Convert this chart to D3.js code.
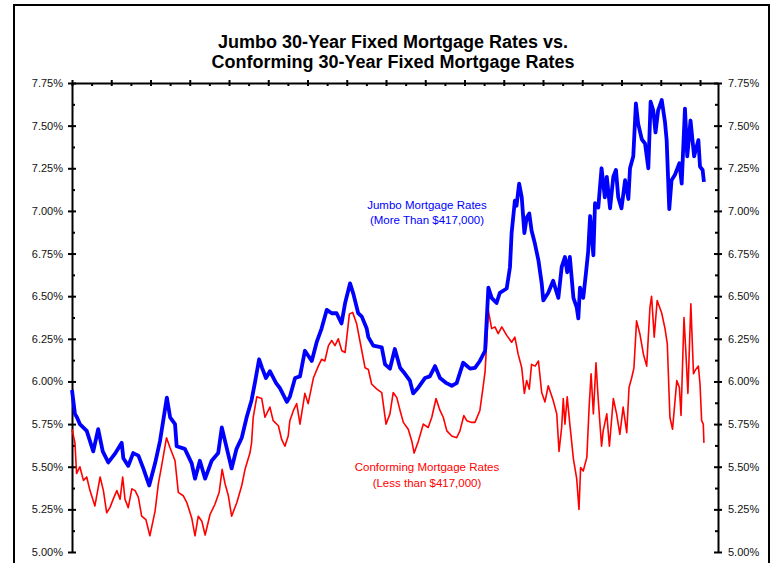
<!DOCTYPE html>
<html>
<head>
<meta charset="utf-8">
<script src="https://cdn.jsdelivr.net/npm/d3@7"></script>
<style>
  body { margin: 0; background: #fff; }
  svg { font-family: Arial, "Liberation Sans", sans-serif; }
  .axis path { stroke: #000; stroke-width: 2px; }
  .axis line { stroke: #000; stroke-width: 2px; }
  .axis text { font-size: 11px; fill: #111; }
  .title { font-size: 18px; font-weight: bold; text-anchor: middle; }
  .label { font-size: 11.5px; text-anchor: middle; }
</style>
</head>
<body>
<script>
//W and H
var w = 772;
var h = 563;
var plotLeft = 72, plotRight = 718, plotTop = 83, plotBottom = 552;

//weeks from start of series, rate in %
var jumbo = [[0,5.95],[0.9,5.81],[1.5,5.79],[2.4,5.75],[4.5,5.71],[6.5,5.59],[8.0,5.72],[9.4,5.59],[11.1,5.525],[13.1,5.575],[15.2,5.64],[15.7,5.55],[17.2,5.505],[18.7,5.58],[20.3,5.565],[21.8,5.49],[23.6,5.39],[25.4,5.52],[26.9,5.65],[29.0,5.905],[30.0,5.79],[31.5,5.75],[32.0,5.62],[34.5,5.605],[36.6,5.52],[37.6,5.43],[39.1,5.535],[40.7,5.43],[42.7,5.535],[44.7,5.58],[45.8,5.73],[46.8,5.65],[48.8,5.49],[50.3,5.605],[51.9,5.67],[53.4,5.79],[54.9,5.89],[56.0,6.00],[57.2,6.13],[58.1,6.08],[59.3,6.02],[60.5,6.06],[62.4,5.99],[63.6,5.96],[65.7,5.88],[66.6,5.91],[68.2,6.02],[69.7,6.03],[71.2,6.18],[73.3,6.12],[74.8,6.23],[76.3,6.31],[77.9,6.42],[79.4,6.40],[80.9,6.40],[82.4,6.34],[83.5,6.46],[85.0,6.575],[86.0,6.515],[87.5,6.40],[88.6,6.38],[90.1,6.31],[90.6,6.26],[92.1,6.21],[94.7,6.20],[95.7,6.10],[97.2,6.075],[98.7,6.19],[100.3,6.08],[101.8,6.045],[103.3,6.005],[104.3,5.93],[105.9,5.965],[107.9,6.02],[109.4,6.03],[111.0,6.09],[112.5,6.02],[114.5,5.99],[116.1,5.975],[117.6,5.99],[119.6,6.11],[121.7,6.075],[123.2,6.08],[124.7,6.12],[126.3,6.18],[127.3,6.55],[128.3,6.49],[129.8,6.46],[130.8,6.52],[132.9,6.545],[133.9,6.67],[134.4,6.87],[135.4,7.06],[135.9,7.03],[136.7,7.16],[137.5,7.08],[138.3,6.87],[139.0,6.96],[139.8,6.985],[140.5,6.885],[141.5,6.81],[142.6,6.71],[143.6,6.575],[144.1,6.475],[145.6,6.52],[147.1,6.59],[148.7,6.49],[149.7,6.67],[150.7,6.73],[151.4,6.64],[152.2,6.73],[153.3,6.49],[154.3,6.435],[154.8,6.37],[155.3,6.55],[156.3,6.49],[157.1,6.63],[157.8,6.76],[158.4,6.97],[159.4,6.74],[159.9,7.045],[160.9,7.02],[161.9,7.25],[162.9,7.08],[163.5,7.20],[164.5,7.015],[165.5,7.20],[166.3,7.24],[167.0,7.08],[168.0,7.015],[169.1,7.18],[170.1,7.07],[170.6,7.25],[171.6,7.32],[172.4,7.63],[173.1,7.51],[174.2,7.42],[175.2,7.395],[176.2,7.25],[176.9,7.64],[177.7,7.59],[178.4,7.46],[179.2,7.59],[180.3,7.65],[181.3,7.52],[181.8,7.415],[182.6,7.01],[183.3,7.18],[184.3,7.21],[185.7,7.28],[186.4,7.16],[187.4,7.60],[188.1,7.32],[189.1,7.53],[190.2,7.32],[191.5,7.415],[192.0,7.26],[192.8,7.24],[193.2,7.17]];

var conforming = [[0,5.72],[0.9,5.64],[1.4,5.46],[2.4,5.50],[3.5,5.42],[4.5,5.44],[5.5,5.36],[6.5,5.30],[7.0,5.27],[8.6,5.44],[9.6,5.36],[10.6,5.23],[11.6,5.26],[12.6,5.31],[13.7,5.36],[14.7,5.31],[15.5,5.44],[16.2,5.31],[17.2,5.26],[18.3,5.37],[19.3,5.36],[20.3,5.32],[21.3,5.21],[22.6,5.19],[23.8,5.095],[25.4,5.24],[26.4,5.40],[27.4,5.505],[28.9,5.67],[30.0,5.61],[31.5,5.535],[32.5,5.35],[34.0,5.33],[35.1,5.29],[36.6,5.20],[37.6,5.095],[38.6,5.21],[39.7,5.18],[40.7,5.10],[42.2,5.22],[43.7,5.28],[45.0,5.35],[45.9,5.485],[46.8,5.40],[47.8,5.33],[48.8,5.21],[50.4,5.29],[51.9,5.39],[52.9,5.485],[54.4,5.58],[54.9,5.64],[55.4,5.79],[56.5,5.91],[58.0,5.90],[59.0,5.79],[60.5,5.85],[61.5,5.77],[63.1,5.74],[64.1,5.66],[65.1,5.62],[66.1,5.68],[66.6,5.77],[67.7,5.83],[68.7,5.87],[69.7,5.75],[71.2,5.93],[72.2,5.87],[73.8,6.02],[75.3,6.09],[76.3,6.13],[77.3,6.12],[78.4,6.21],[79.4,6.24],[80.4,6.21],[81.4,6.25],[82.5,6.18],[83.5,6.17],[84.8,6.395],[85.8,6.405],[87.0,6.34],[88.0,6.24],[89.6,6.08],[90.6,6.07],[91.6,5.985],[93.2,5.955],[94.7,5.935],[96.0,5.75],[97.2,5.81],[98.2,5.935],[99.3,5.905],[100.3,5.83],[101.3,5.76],[102.8,5.72],[103.9,5.65],[104.6,5.58],[105.9,5.65],[107.4,5.75],[108.9,5.73],[110.0,5.79],[111.3,5.90],[112.5,5.83],[113.5,5.79],[114.6,5.71],[116.1,5.68],[117.6,5.67],[118.6,5.71],[119.8,5.80],[120.7,5.77],[122.2,5.76],[123.2,5.76],[124.7,5.83],[125.6,5.955],[126.3,6.06],[127.3,6.415],[128.3,6.31],[129.3,6.32],[130.3,6.28],[131.4,6.32],[132.9,6.27],[134.4,6.23],[135.4,6.26],[136.4,6.16],[137.5,6.08],[138.3,5.93],[139.0,6.005],[139.8,5.955],[140.5,6.10],[141.6,6.09],[142.6,6.12],[143.6,5.935],[144.6,5.88],[145.6,5.975],[147.1,5.89],[148.2,5.81],[148.9,5.59],[149.7,5.73],[150.2,5.90],[150.7,5.75],[151.4,5.91],[152.2,5.75],[153.3,5.545],[154.3,5.43],[155.0,5.25],[155.5,5.495],[156.3,5.475],[157.4,5.555],[158.1,5.85],[158.7,6.045],[159.4,5.81],[160.2,6.11],[160.9,5.89],[161.9,5.62],[162.4,5.71],[163.5,5.81],[164.3,5.62],[165.5,5.90],[166.5,5.81],[167.5,5.69],[168.5,5.85],[169.6,5.70],[170.3,5.965],[171.1,6.02],[171.8,6.08],[172.6,6.355],[173.6,6.28],[174.7,6.16],[175.7,6.09],[176.7,6.435],[177.2,6.50],[178.0,6.26],[178.9,6.475],[180.3,6.40],[181.3,6.31],[182.0,6.22],[182.8,5.79],[183.6,5.72],[184.9,6.005],[185.7,5.965],[186.2,5.80],[187.1,6.375],[187.6,6.20],[188.3,5.93],[189.2,6.455],[190.0,6.045],[190.5,6.065],[191.5,6.09],[192.0,5.985],[192.5,5.77],[193.0,5.75],[193.2,5.64]];

var yTicks = [5.00, 5.25, 5.50, 5.75, 6.00, 6.25, 6.50, 6.75, 7.00, 7.25, 7.50, 7.75];
var yMinor = [5.125, 5.375, 5.625, 5.875, 6.125, 6.375, 6.625, 6.875, 7.125, 7.375, 7.625];
var xTicks = [0, 12, 24, 36, 48, 60, 72, 84, 96, 108, 120, 132, 144, 156, 168, 180, 192];
var xMinor = [6, 18, 30, 42, 54, 66, 78, 90, 102, 114, 126, 138, 150, 162, 174, 186];

var titleLines = ["Jumbo 30-Year Fixed Mortgage Rates vs.", "Conforming 30-Year Fixed Mortgage Rates"];
var jumboLabel = ["Jumbo Mortgage Rates", "(More Than $417,000)"];
var confLabel = ["Conforming Mortgage Rates", "(Less than $417,000)"];

//Scales
var x = d3.scaleLinear().domain([0, 197.5]).range([plotLeft, plotRight]);
var y = d3.scaleLinear().domain([5.00, 7.75]).range([plotBottom, plotTop]);

var svg = d3.select("body").append("svg")
    .attr("width", w)
    .attr("height", h);

//outer frame
svg.append("rect")
    .attr("x", 14).attr("y", 5)
    .attr("width", 755).attr("height", 620)
    .attr("fill", "none")
    .attr("stroke", "#000")
    .attr("stroke-width", 2);

//title
svg.selectAll(".title")
    .data(titleLines)
    .enter().append("text")
    .attr("class", "title")
    .attr("x", 393)
    .attr("y", function(d, i) { return 48 + i * 20; })
    .text(function(d) { return d; });

var fmt = function(d) { return d.toFixed(2) + "%"; };

//minor ticks (inside only)
svg.append("g").attr("class", "axis")
    .attr("transform", "translate(" + plotLeft + ",0)")
    .call(d3.axisRight(y).tickValues(yMinor).tickSize(3).tickFormat(""))
    .select(".domain").remove();
svg.append("g").attr("class", "axis")
    .attr("transform", "translate(" + plotRight + ",0)")
    .call(d3.axisLeft(y).tickValues(yMinor).tickSize(3).tickFormat(""))
    .select(".domain").remove();
svg.append("g").attr("class", "axis")
    .attr("transform", "translate(0," + plotTop + ")")
    .call(d3.axisBottom(x).tickValues(xMinor).tickSize(3).tickFormat(""))
    .select(".domain").remove();

//major axes with crossing ticks
var yl = svg.append("g").attr("class", "axis")
    .attr("transform", "translate(" + plotLeft + ",0)")
    .call(d3.axisLeft(y).tickValues(yTicks).tickSizeInner(4).tickSizeOuter(0).tickPadding(5).tickFormat(fmt));
yl.selectAll(".tick line").attr("x1", 4);

var yr = svg.append("g").attr("class", "axis")
    .attr("transform", "translate(" + plotRight + ",0)")
    .call(d3.axisRight(y).tickValues(yTicks).tickSizeInner(4).tickSizeOuter(0).tickPadding(6).tickFormat(fmt));
yr.selectAll(".tick line").attr("x1", -4);

var xt = svg.append("g").attr("class", "axis")
    .attr("transform", "translate(0," + plotTop + ")")
    .call(d3.axisTop(x).tickValues(xTicks).tickSizeInner(3).tickSizeOuter(0).tickFormat(""));
xt.selectAll(".tick line").attr("y1", 3);

//lines
var line = d3.line()
    .x(function(d) { return x(d[0]); })
    .y(function(d) { return y(d[1]); });

svg.append("path")
    .datum(conforming)
    .attr("fill", "none")
    .attr("stroke", "#ff0000")
    .attr("stroke-width", 1.6)
    .attr("stroke-linejoin", "round")
    .attr("d", line);

svg.append("path")
    .datum(jumbo)
    .attr("fill", "none")
    .attr("stroke", "#0000ff")
    .attr("stroke-width", 3.8)
    .attr("stroke-linejoin", "round")
    .attr("d", line);

//series labels
svg.selectAll(".jlabel")
    .data(jumboLabel)
    .enter().append("text")
    .attr("class", "label")
    .attr("fill", "#0000ff")
    .attr("x", 427)
    .attr("y", function(d, i) { return 209 + i * 15; })
    .text(function(d) { return d; });

svg.selectAll(".clabel")
    .data(confLabel)
    .enter().append("text")
    .attr("class", "label")
    .attr("fill", "#ff0000")
    .attr("x", 427)
    .attr("y", function(d, i) { return 471 + i * 16; })
    .text(function(d) { return d; });
</script>
</body>
</html>
